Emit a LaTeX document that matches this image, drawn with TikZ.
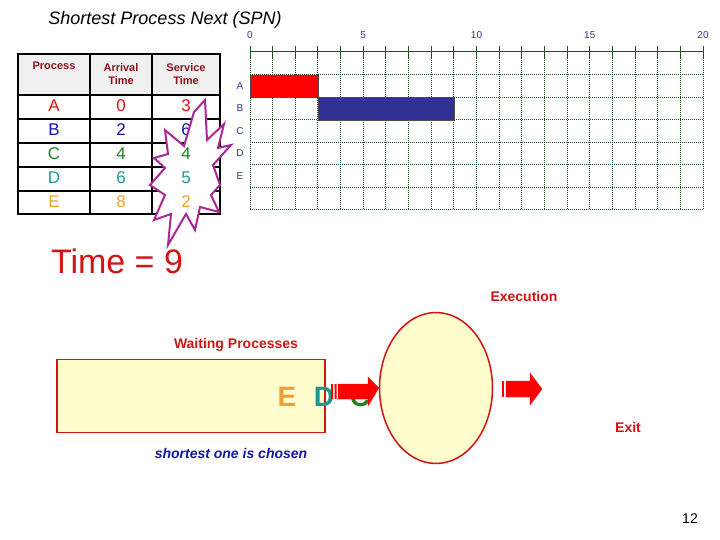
\documentclass[tikz,border=0pt]{standalone}
\usepackage{fontspec}
\setmainfont{Liberation Sans}
\usetikzlibrary{shapes.geometric}
\definecolor{dred}{RGB}{140,20,30}
\definecolor{tred}{RGB}{210,20,20}
\definecolor{gridg}{RGB}{30,80,30}
\definecolor{bblue}{RGB}{50,50,150}
\definecolor{cA}{RGB}{220,20,20}
\definecolor{cB}{RGB}{20,20,170}
\definecolor{cC}{RGB}{30,130,30}
\definecolor{cD}{RGB}{30,150,150}
\definecolor{cE}{RGB}{240,160,50}
\definecolor{cream}{RGB}{255,252,205}
\definecolor{burst}{RGB}{170,40,150}
\tikzset{
 hdr/.style={text=dred,font=\fontsize{11}{13}\selectfont\bfseries,align=center},
 cell/.style={font=\fontsize{17}{17}\selectfont},
 rowlab/.style={text=bblue,font=\fontsize{10}{10}\selectfont},
 axlab/.style={text=bblue,font=\fontsize{10}{10}\selectfont},
 redlab/.style={text=tred,font=\fontsize{14}{14}\selectfont\bfseries},
 big/.style={font=\fontsize{28}{28}\selectfont\bfseries},
 redarrow/.style={fill=red,draw=tred}
}
\begin{document}
\begin{tikzpicture}[x=1pt,y=-1pt]
\useasboundingbox (0,0) rectangle (720,540);
\node (title) at (165,20) {\fontsize{18}{18}\selectfont\itshape Shortest Process Next (SPN)};
% table
\fill[gray!12] (18,54) rectangle (220,95);
\draw[line width=1.3pt] (18,54) rectangle (220,214);
\foreach \y in {95,119,143,167,191} \draw[line width=1.3pt] (18,\y) -- (220,\y);
\foreach \x in {90,152} \draw[line width=1.3pt] (\x,54) -- (\x,214);
\node[hdr] (h1) at (54,66) {Process};
\node[hdr] (h2) at (121,74) {Arrival\\Time};
\node[hdr] (h3) at (186,74) {Service\\Time};
\foreach \n/\a/\c/\y in {A/0/cA/106,B/2/cB/130,C/4/cC/154,D/6/cD/178,E/8/cE/202}{
 \node[cell,text=\c] (p\n) at (54,\y) {\n};
 \node[cell,text=\c] (a\n) at (121,\y) {\a};
}
\node[cell,text=cB] (sB) at (186,130) {6};
\draw[burst,line width=2pt,fill=white] (205,100)--(207,140)--(224,124)--(218,148)--(231,145)--(213,165)--(220,185)--(211,195)--(219,212)--(200,207)--(195,230)--(186,214)--(168,245)--(171,214)--(154,220)--(165,195)--(150,185)--(165,168)--(154,158)--(168,154)--(165,130)--(184,146)--(194,112)--cycle;
\node[cell,text=cA] (sA) at (186,106) {3};
\node[cell,text=cC] (sC) at (186,154) {4};
\node[cell,text=cD] (sD) at (186,178) {5};
\node[cell,text=cE] (sE) at (186,202) {2};
% gantt
\foreach \i in {0,...,20} {
 \draw[gridg,densely dotted,line width=1pt] (250+22.65*\i,52) -- (250+22.65*\i,210);
 \draw[gridg,line width=1pt] (250+22.65*\i,46) -- (250+22.65*\i,58);
}
\foreach \y in {75,97.5,120,142.5,165,187.5,210} \draw[gridg,densely dotted,line width=1pt] (250,\y) -- (703,\y);
\draw[gridg,line width=1pt] (250,52) -- (703,52);
\foreach \i in {0,5,10,15,20} \node[axlab] (t\i) at (250+22.65*\i,35) {\i};
\foreach \n/\y in {A/86,B/108,C/131,D/153,E/176} \node[rowlab] (r\n) at (240,\y) {\n};
\draw[fill=red,draw=black!70] (250,75) rectangle (318,97.5);
\draw[fill=bblue,draw=black!70] (318,97.5) rectangle (454,120);
\node[text=tred,font=\fontsize{34}{34}\selectfont] (time) at (117,261) {Time = 9};
% bottom
\node[draw=tred,line width=1.5pt,fill=cream,minimum width=268pt,minimum height=73pt,inner sep=0pt] (wait) at (191,396) {};
\node[draw=tred,line width=1.5pt,fill=cream,ellipse,minimum width=113pt,minimum height=151pt,inner sep=0pt] (exec) at (436,388) {};
\node[big,text=cE] (qE) at (287,397) {E};
\node[big,text=cD] (qD) at (324,397) {D};
\node[big,text=cC] (qC) at (360,397) {C};
\node[redlab] (lw) at (236,345) {Waiting Processes};
\node[redlab] (le) at (524,296) {Execution};
\node[redlab] (lx) at (628,427) {Exit};
\node[text=cB,font=\fontsize{14}{14}\selectfont\bfseries\itshape] (ls) at (231,453) {shortest one is chosen};
% arrow into execution
\draw[redarrow] (338,384) -- (368,384) -- (368,377) -- (exec.west) -- (368,406) -- (368,399) -- (338,399) -- cycle;
\fill[red] (331,384) rectangle (333,399) (334.5,384) rectangle (336.5,399);
% exit arrow
\coordinate (xt) at (542,389);
\draw[redarrow] (506,381) -- (530,381) -- (530,373) -- (xt) -- (530,405) -- (530,397) -- (506,397) -- cycle;
\fill[red] (502,381) rectangle (504,397);
\node (pg) at (690,519) {\fontsize{14}{14}\selectfont 12};
\end{tikzpicture}
\end{document}
